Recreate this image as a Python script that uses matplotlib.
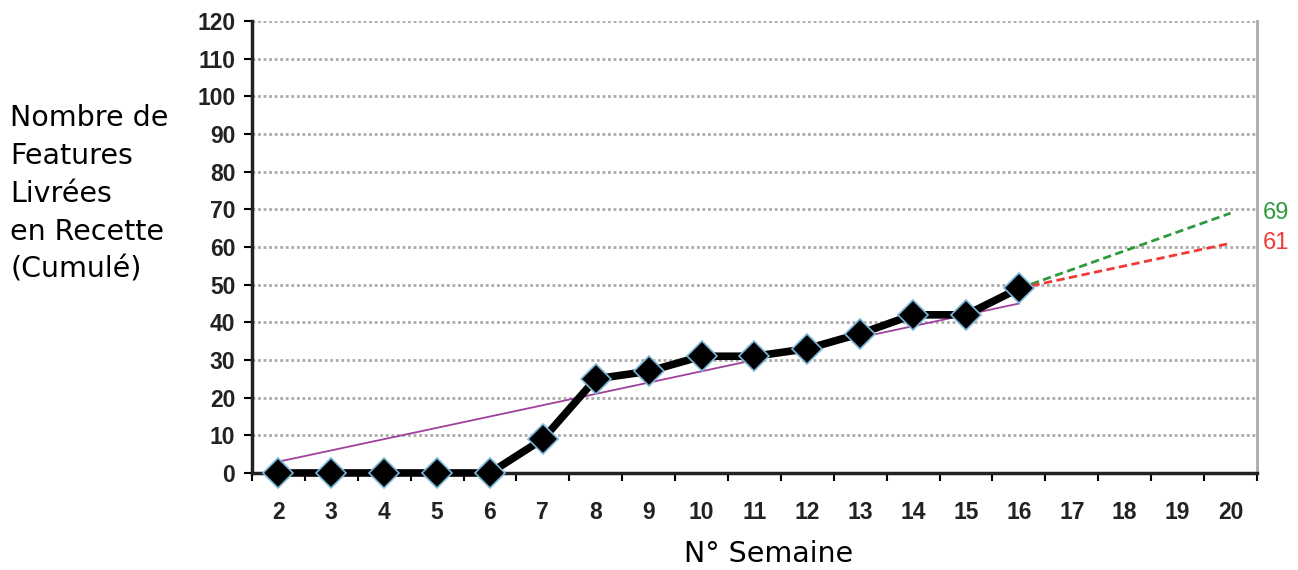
import matplotlib.pyplot as plt
from matplotlib.ticker import MultipleLocator, FixedLocator

# Data
weeks = [2, 3, 4, 5, 6, 7, 8, 9, 10, 11, 12, 13, 14, 15, 16]
features = [0, 0, 0, 0, 0, 9, 25, 27, 31, 31, 33, 37, 42, 42, 49]
trend_weeks = [2, 16]
trend_values = [3, 45]
proj_weeks = [16, 20]
proj_high = [49, 69]
proj_low = [49, 61]
all_weeks = list(range(2, 21))

plt.rcParams['font.family'] = ['Liberation Sans', 'DejaVu Sans']

fig = plt.figure(figsize=(12.98, 5.70), dpi=100)
ax = fig.add_axes([0.1941, 0.1702, 0.7743, 0.7928])

ax.plot(trend_weeks, trend_values, color='#a0409c', lw=1.3, zorder=3)
ax.plot(proj_weeks, proj_high, color='#2e9a3e', lw=2, ls=(0, (3, 1.6)), zorder=3)
ax.plot(proj_weeks, proj_low, color='#f03a3a', lw=2, ls=(0, (3, 1.6)), zorder=3)
ax.plot(weeks, features, color='black', lw=5.5, marker='D', ms=15,
        mfc='black', mec='#7ab8d8', mew=1.2, zorder=4, clip_on=False)

ax.text(20.6, proj_high[-1], str(proj_high[-1]), color='#2e9a3e', fontsize=17,
        va='center', ha='left')
ax.text(20.6, proj_low[-1], str(proj_low[-1]), color='#f03a3a', fontsize=17,
        va='center', ha='left')

ax.set_xlim(1.5, 20.5)
ax.set_ylim(0, 120)
ax.set_xticks(all_weeks)
ax.xaxis.set_minor_locator(FixedLocator([w + 0.5 for w in all_weeks[:-1]] + [1.5, 20.5]))
ax.yaxis.set_major_locator(MultipleLocator(10))
ax.tick_params(axis='x', which='major', length=0, pad=20, labelsize=16.5)
ax.tick_params(axis='x', which='minor', length=6, width=1.5, direction='out')
ax.tick_params(axis='y', length=6, width=1.5, direction='out', pad=6, labelsize=16.5)
for lab in ax.get_xticklabels() + ax.get_yticklabels():
    lab.set_fontweight('bold')
    lab.set_color('#222222')

ax.grid(axis='y', color='#aaaaaa', ls=(0, (1, 1)), lw=2)
ax.set_axisbelow(True)
for s in ['left', 'bottom']:
    ax.spines[s].set_linewidth(2.5)
    ax.spines[s].set_color('#222222')
ax.spines['top'].set_visible(False)
ax.spines['right'].set_color('#aaaaaa')
ax.spines['right'].set_linestyle((0, (1, 1)))
ax.spines['right'].set_linewidth(2)

fig.text(0.008, 0.66, "Nombre de\nFeatures\nLivrées\nen Recette\n(Cumulé)",
         fontsize=20.5, family='DejaVu Sans', va='center', ha='left', linespacing=1.45)
fig.text(0.592, 0.028, "N° Semaine", fontsize=20.5, family='DejaVu Sans',
         va='center', ha='center')

fig.savefig('out.png', dpi=100, facecolor='white')
